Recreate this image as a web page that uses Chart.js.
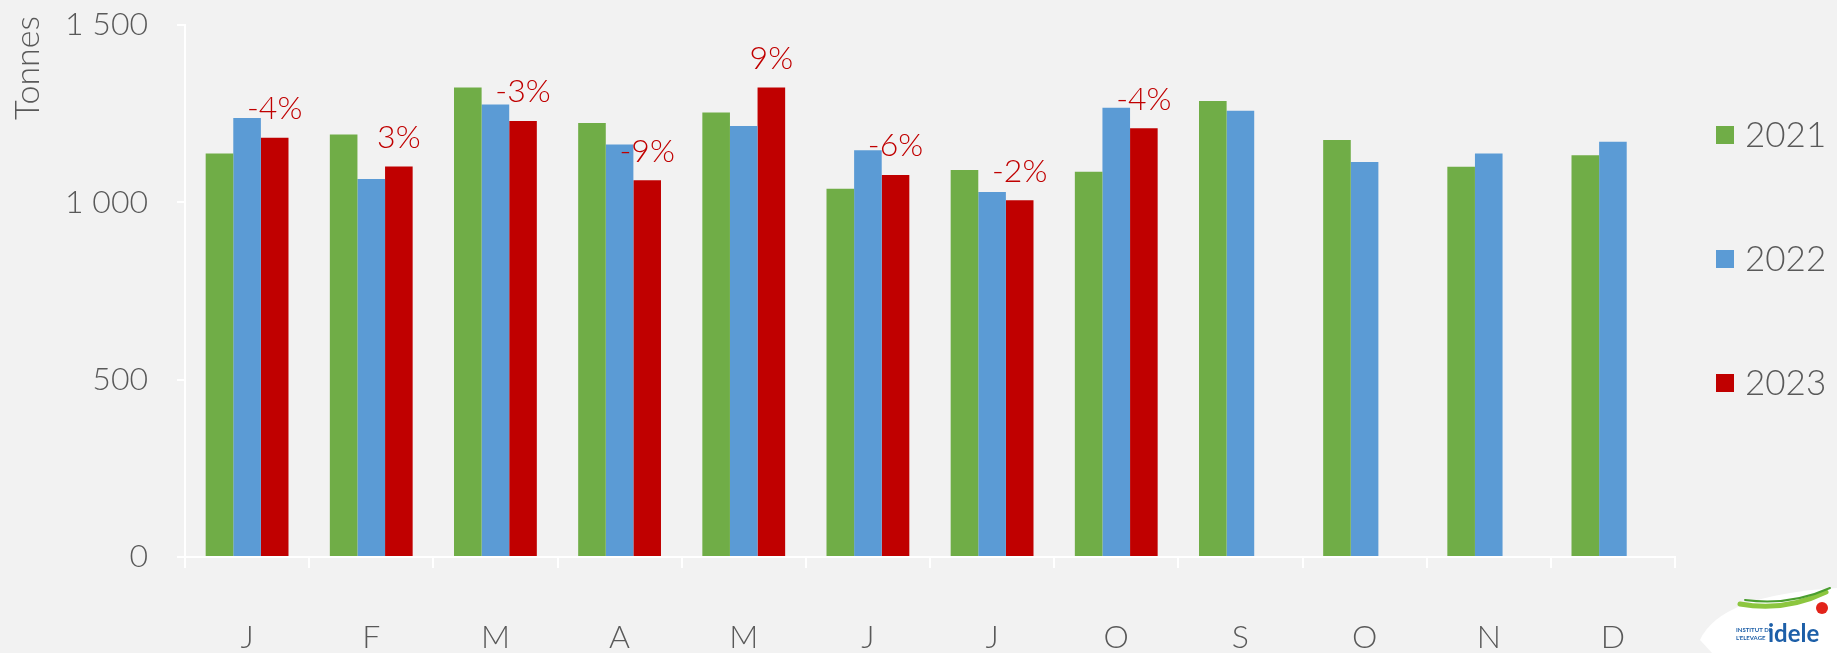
<!DOCTYPE html>
<html>
<head>
<meta charset="utf-8">
<script src="https://cdn.jsdelivr.net/npm/chart.js@4.4.0/dist/chart.umd.min.js"></script>
<style>
  html, body { margin: 0; padding: 0; background: #f2f2f2; }
  #wrap { width: 1837px; height: 653px; }
</style>
</head>
<body>
<div id="wrap"><canvas id="chart" width="1837" height="653"></canvas></div>
<script>
// Monthly volumes (tonnes)
const months = ['J', 'F', 'M', 'A', 'M', 'J', 'J', 'O', 'S', 'O', 'N', 'D'];
const years = ['2021', '2022', '2023'];
const values2021 = [1138, 1191, 1324, 1224, 1253, 1038, 1091, 1086, 1286, 1176, 1100, 1133];
const values2022 = [1238, 1066, 1276, 1163, 1215, 1147, 1029, 1267, 1258, 1114, 1138, 1171];
const values2023 = [1182, 1101, 1229, 1062, 1324, 1077, 1006, 1209, null, null, null, null];
// change 2023 vs 2022, shown over the 2023 bars
const changeLabels = ['-4%', '3%', '-3%', '-9%', '9%', '-6%', '-2%', '-4%', null, null, null, null];
const yTicks = [0, 500, 1000, 1500];

const colors = ['#70ad47', '#5b9bd5', '#c00000'];
const textGray = '#595959';
const fontFamily = 'Lato, "Open Sans", sans-serif';

const fmt = v => String(v).replace(/\B(?=(\d{3})+(?!\d))/g, ' ');

// background, y title, legend, logo
const decorations = {
  id: 'decorations',
  beforeDraw(chart) {
    const ctx = chart.ctx;
    ctx.save();
    ctx.fillStyle = '#f2f2f2';
    ctx.fillRect(0, 0, chart.width, chart.height);
    ctx.restore();
  },
  afterDraw(chart) {
    const ctx = chart.ctx;
    ctx.save();

    // y axis title
    ctx.translate(28, 68);
    ctx.rotate(-Math.PI / 2);
    ctx.font = '300 34px ' + fontFamily;
    ctx.fillStyle = textGray;
    ctx.textAlign = 'center';
    ctx.textBaseline = 'middle';
    ctx.fillText('Tonnes', 0, 0);
    ctx.setTransform(1, 0, 0, 1, 0, 0);

    // legend
    chart.data.datasets.forEach((ds, i) => {
      const cy = 135 + i * 124;
      ctx.fillStyle = ds.backgroundColor;
      ctx.fillRect(1716, cy - 9, 18, 18);
      ctx.fillStyle = textGray;
      ctx.font = '300 35px ' + fontFamily;
      ctx.textAlign = 'left';
      ctx.textBaseline = 'middle';
      ctx.fillText(ds.label, 1745, cy + 1);
    });

    // small logo, bottom right
    ctx.fillStyle = '#ffffff';
    ctx.beginPath();
    ctx.moveTo(1700, 640);
    ctx.quadraticCurveTo(1720, 595, 1837, 588);
    ctx.lineTo(1837, 653);
    ctx.lineTo(1712, 653);
    ctx.closePath();
    ctx.fill();
    ctx.strokeStyle = '#8cc63f';
    ctx.lineWidth = 5;
    ctx.lineCap = 'round';
    ctx.beginPath();
    ctx.moveTo(1740, 604);
    ctx.quadraticCurveTo(1785, 612, 1826, 592);
    ctx.stroke();
    ctx.strokeStyle = '#4a9e2f';
    ctx.lineWidth = 2;
    ctx.beginPath();
    ctx.moveTo(1745, 600);
    ctx.quadraticCurveTo(1790, 606, 1830, 588);
    ctx.stroke();
    ctx.fillStyle = '#e2231a';
    ctx.beginPath();
    ctx.arc(1822, 608, 6, 0, Math.PI * 2);
    ctx.fill();
    ctx.fillStyle = '#1d5fa8';
    ctx.font = 'bold 24px ' + fontFamily;
    ctx.textAlign = 'left';
    ctx.textBaseline = 'alphabetic';
    ctx.fillText('idele', 1768, 642);
    ctx.font = 'bold 6px ' + fontFamily;
    ctx.fillText('INSTITUT DE', 1736, 632);
    ctx.fillText("L'ELEVAGE", 1736, 640);

    ctx.restore();
  }
};

// percentage labels over the 2023 bars
const changeText = {
  id: 'changeText',
  afterDatasetsDraw(chart) {
    const ctx = chart.ctx;
    const meta = chart.getDatasetMeta(2);
    ctx.save();
    ctx.font = '300 32px ' + fontFamily;
    ctx.fillStyle = '#c00000';
    ctx.textAlign = 'center';
    ctx.textBaseline = 'middle';
    meta.data.forEach((bar, i) => {
      if (!changeLabels[i] || values2023[i] == null) return;
      ctx.fillText(changeLabels[i], bar.x, bar.y - 29);
    });
    ctx.restore();
  }
};

new Chart(document.getElementById('chart'), {
  type: 'bar',
  data: {
    labels: months,
    datasets: [
      { label: years[0], data: values2021, backgroundColor: colors[0] },
      { label: years[1], data: values2022, backgroundColor: colors[1] },
      { label: years[2], data: values2023, backgroundColor: colors[2] }
    ]
  },
  options: {
    responsive: false,
    animation: false,
    devicePixelRatio: 1,
    categoryPercentage: 0.667,
    barPercentage: 1.0,
    layout: { padding: { top: 25, right: 162, left: 0, bottom: 0 } },
    plugins: {
      legend: { display: false },
      tooltip: { enabled: false }
    },
    scales: {
      x: {
        grid: {
          display: true,
          offset: true,
          drawOnChartArea: false,
          color: '#ffffff',
          tickLength: 11,
          lineWidth: 2
        },
        border: { color: '#ffffff', width: 2 },
        ticks: {
          color: textGray,
          font: { family: fontFamily, size: 32, weight: '300' },
          padding: 50,
          maxRotation: 0
        },
        afterFit: s => {
          s.height = 96;
          s.paddingLeft = 0;
          s.paddingRight = 0;
        }
      },
      y: {
        min: 0,
        max: 1500,
        afterBuildTicks: s => { s.ticks = yTicks.map(v => ({ value: v })); },
        grid: {
          display: true,
          drawOnChartArea: false,
          color: '#ffffff',
          tickLength: 8,
          lineWidth: 2
        },
        border: { color: '#ffffff', width: 2 },
        ticks: {
          color: textGray,
          font: { family: fontFamily, size: 32, weight: '300' },
          padding: 29,
          callback: v => fmt(v)
        },
        afterFit: s => {
          s.width = 185;
          s.paddingTop = 0;
          s.paddingBottom = 0;
        }
      }
    }
  },
  plugins: [decorations, changeText]
});
</script>
</body>
</html>
